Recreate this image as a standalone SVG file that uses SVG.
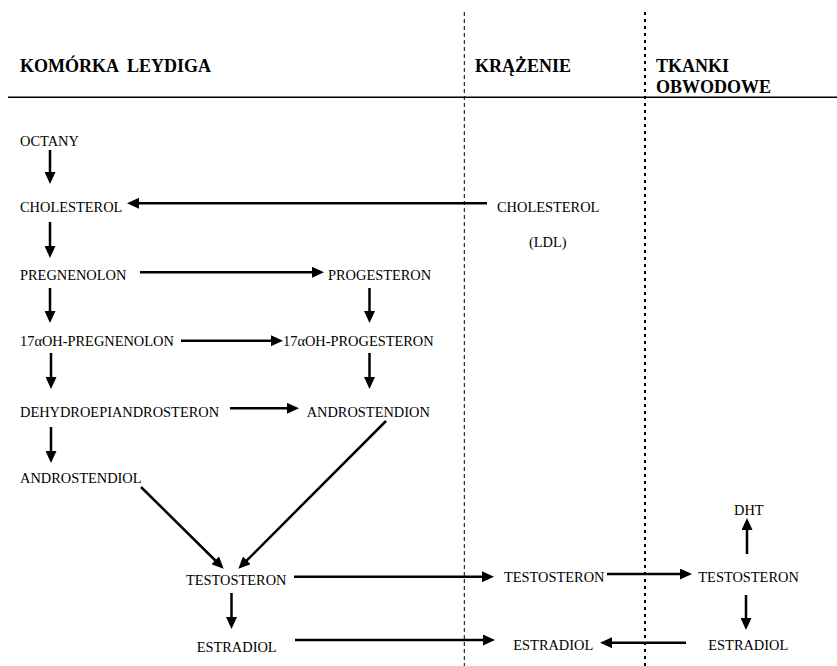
<svg xmlns="http://www.w3.org/2000/svg" width="837" height="666" viewBox="0 0 837 666">
<style>
  .t { font-family: "Liberation Serif", "Times New Roman", serif; font-size: 14.4px; fill: #000; }
  .h { font-family: "Liberation Serif", "Times New Roman", serif; font-size: 18px; font-weight: bold; fill: #000; }
  .a { stroke: #000; stroke-width: 2.5; fill: none; marker-end: url(#ah); }
</style>
<defs>
  <marker id="ah" markerUnits="userSpaceOnUse" markerWidth="12" markerHeight="11" refX="6" refY="5.5" orient="auto">
    <path d="M0,0 L12,5.5 L0,11 z" fill="#000"/>
  </marker>
</defs>
<rect width="837" height="666" fill="#fff"/>
<g id="frame">
  <line x1="8" y1="97.3" x2="837" y2="97.3" stroke="#000" stroke-width="1.4"/>
  <line x1="464.3" y1="12" x2="464.3" y2="666" stroke="#000" stroke-width="1" stroke-dasharray="4 3"/>
  <line x1="645" y1="12" x2="645" y2="666" stroke="#000" stroke-width="2" stroke-dasharray="3 4"/>
  <text class="h" x="20" y="71.7" xml:space="preserve">KOMÓRKA  LEYDIGA</text>
  <text class="h" x="475" y="71.7">KRĄŻENIE</text>
  <text class="h" x="656" y="71.7">TKANKI</text>
  <text class="h" x="656" y="93">OBWODOWE</text>
</g>
<g id="n-octany"><text class="t" x="20" y="145.7">OCTANY</text></g>
<g id="n-cholesterol"><text class="t" x="20" y="211.7">CHOLESTEROL</text></g>
<g id="n-cholesterol-ldl"><text class="t" x="497" y="211.7">CHOLESTEROL</text><text class="t" x="529" y="246.7">(LDL)</text></g>
<g id="n-pregnenolon"><text class="t" x="20" y="280">PREGNENOLON</text></g>
<g id="n-progesteron"><text class="t" x="328" y="280">PROGESTERON</text></g>
<g id="n-17pregnenolon"><text class="t" x="20" y="346">17αOH-PREGNENOLON</text></g>
<g id="n-17progesteron"><text class="t" x="283" y="346">17αOH-PROGESTERON</text></g>
<g id="n-dhea"><text class="t" x="20" y="416.7">DEHYDROEPIANDROSTERON</text></g>
<g id="n-androstendion"><text class="t" x="306.7" y="416.7">ANDROSTENDION</text></g>
<g id="n-androstendiol"><text class="t" x="20" y="483.3">ANDROSTENDIOL</text></g>
<g id="n-testosteron-l"><text class="t" x="186" y="585">TESTOSTERON</text></g>
<g id="n-estradiol-l"><text class="t" x="196.7" y="651.7">ESTRADIOL</text></g>
<g id="n-testosteron-m"><text class="t" x="504" y="582">TESTOSTERON</text></g>
<g id="n-estradiol-m"><text class="t" x="513.3" y="650">ESTRADIOL</text></g>
<g id="n-dht"><text class="t" x="734" y="515">DHT</text></g>
<g id="n-testosteron-r"><text class="t" x="698.3" y="582">TESTOSTERON</text></g>
<g id="n-estradiol-r"><text class="t" x="708.3" y="650">ESTRADIOL</text></g>
<g id="connectors">
  <line class="a" x1="50" y1="150" x2="50" y2="178"/>
  <line class="a" x1="487" y1="203.3" x2="133" y2="203.3"/>
  <line class="a" x1="50" y1="222" x2="50" y2="252"/>
  <line class="a" x1="140" y1="272.3" x2="318" y2="272.3"/>
  <line class="a" x1="50" y1="288" x2="50" y2="317"/>
  <line class="a" x1="369.5" y1="288" x2="369.5" y2="317"/>
  <line class="a" x1="181" y1="340.7" x2="277" y2="340.7"/>
  <line class="a" x1="51" y1="353" x2="51" y2="383"/>
  <line class="a" x1="369.5" y1="353" x2="369.5" y2="383"/>
  <line class="a" x1="230" y1="408.3" x2="293" y2="408.3"/>
  <line class="a" x1="51" y1="427" x2="51" y2="457"/>
  <line class="a" x1="141" y1="487" x2="219.4" y2="564.5"/>
  <line class="a" x1="386" y1="421" x2="242.6" y2="564.6"/>
  <line class="a" x1="294" y1="576.7" x2="488" y2="576.7"/>
  <line class="a" x1="231.5" y1="593" x2="231.5" y2="623"/>
  <line class="a" x1="295" y1="640" x2="489" y2="640"/>
  <line class="a" x1="607" y1="574" x2="686" y2="574"/>
  <line class="a" x1="747" y1="554" x2="747" y2="524"/>
  <line class="a" x1="746" y1="595" x2="746" y2="624"/>
  <line class="a" x1="686" y1="642.7" x2="606" y2="642.7"/>
</g>
</svg>
